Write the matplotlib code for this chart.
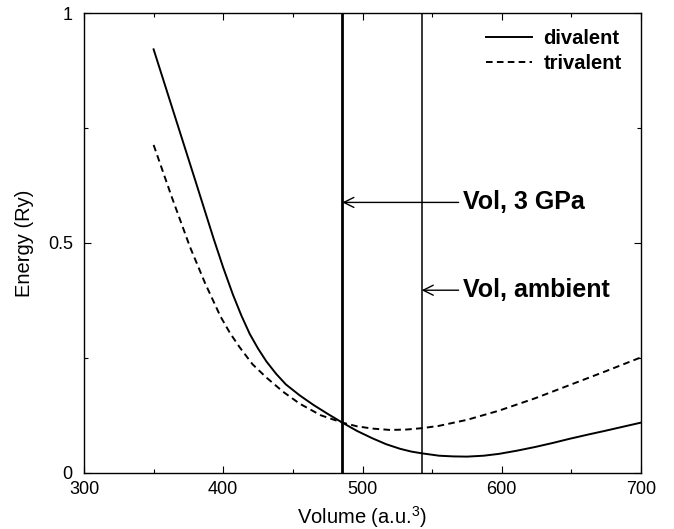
import matplotlib
matplotlib.use('Agg')
import matplotlib.pyplot as plt
from matplotlib.ticker import MultipleLocator, FormatStrFormatter

plt.rcParams['font.family'] = ['Liberation Sans', 'DejaVu Sans']
plt.rcParams['mathtext.default'] = 'regular'

# divalent curve
vol_div = [350, 365, 380, 393, 400, 407, 413, 419, 425, 431, 438, 445, 455,
           465, 475, 485.5, 496, 507, 517, 527, 535, 543, 555, 565, 575,
           587, 598, 611, 624, 637, 649, 662, 674, 687, 700]
e_div = [0.921, 0.778, 0.635, 0.510, 0.446, 0.387, 0.342, 0.302, 0.270,
         0.242, 0.215, 0.192, 0.168, 0.147, 0.128, 0.109, 0.091, 0.075,
         0.062, 0.052, 0.046, 0.042, 0.037, 0.0355, 0.035, 0.037, 0.041,
         0.048, 0.056, 0.065, 0.074, 0.083, 0.091, 0.100, 0.109]

# trivalent curve
vol_tri = [350, 363, 376, 387, 398, 405, 412, 421, 431, 443, 455, 470,
           485.5, 496, 507, 520, 532, 543, 555, 575, 598, 624, 649, 674, 700]
e_tri = [0.713, 0.600, 0.492, 0.412, 0.340, 0.303, 0.272, 0.236, 0.207,
         0.176, 0.150, 0.125, 0.109, 0.101, 0.096, 0.093, 0.094, 0.097,
         0.102, 0.115, 0.135, 0.162, 0.191, 0.220, 0.251]

# marked volumes
vol_3gpa = 485.5
vol_ambient = 542.5
arrow_y = [0.588, 0.397]
arrow_text = ['Vol, 3 GPa', 'Vol, ambient']
text_x = 572

fig = plt.figure(figsize = (6.74, 5.29), dpi = 100)
ax = fig.add_axes([0.1246, 0.1064, 0.8265, 0.869])

ax.plot(vol_div, e_div, color = 'k', lw = 1.4, label = 'divalent')
ax.plot(vol_tri, e_tri, color = 'k', lw = 1.4, linestyle = (0, (3.4, 2.2)),
        label = 'trivalent')

ax.axvline(vol_3gpa, color = 'k', lw = 2.0)
ax.axvline(vol_ambient, color = 'k', lw = 1.1)

for xv, yv, txt in zip([vol_3gpa, vol_ambient], arrow_y, arrow_text):
    ax.annotate(txt, xy = (xv, yv), xytext = (text_x, yv), ha = 'left',
                va = 'center', fontsize = 18, fontweight = 'bold',
                arrowprops = dict(arrowstyle = '->', color = 'k', lw = 1.0,
                                  shrinkA = 1, shrinkB = 0))

ax.set_xlim(300, 700)
ax.set_ylim(0, 1)
ax.xaxis.set_major_locator(MultipleLocator(100))
ax.xaxis.set_minor_locator(MultipleLocator(50))
ax.yaxis.set_major_locator(MultipleLocator(0.5))
ax.yaxis.set_minor_locator(MultipleLocator(0.25))
ax.yaxis.set_major_formatter(FormatStrFormatter('%g'))

ax.tick_params(which = 'both', direction = 'in', top = True, right = True,
               width = 0.8, labelsize = 13)
ax.tick_params(which = 'major', length = 5)
ax.tick_params(which = 'minor', length = 3.2)
ax.tick_params(axis = 'x', pad = 6)
ax.tick_params(axis = 'y', pad = 8)
for s in ax.spines.values():
    s.set_linewidth(1.0)

ax.set_xlabel('Volume (a.u.$^{3}$)', fontsize = 14.5, labelpad = 4)
ax.set_ylabel('Energy (Ry)', fontsize = 14.5, labelpad = 10)

ax.legend(loc = 'upper right', bbox_to_anchor = (0.965, 0.965), frameon = False,
          prop = {'weight': 'bold', 'size': 14.5}, handlelength = 2.3,
          handletextpad = 0.55, labelspacing = 0.3, borderpad = 0,
          borderaxespad = 0)

plt.savefig('out.png', dpi = 100)
